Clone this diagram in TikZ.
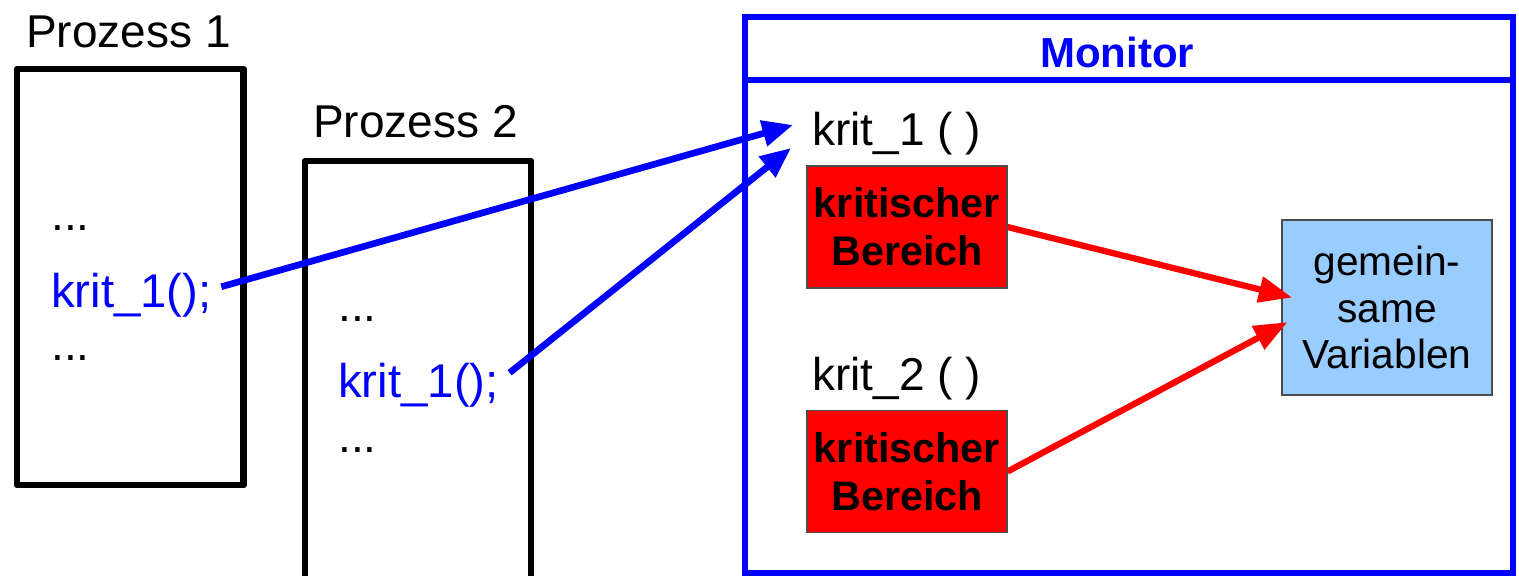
\documentclass[tikz,border=0pt]{standalone}
\usepackage{fontspec}
\setmainfont{Liberation Sans}
\usetikzlibrary{arrows.meta}
\definecolor{mblue}{RGB}{0,0,255}
\definecolor{mred}{RGB}{255,0,0}
\definecolor{lblue}{RGB}{153,204,255}
\begin{document}
\begin{tikzpicture}[x=0.75pt,y=-0.75pt,
  procbox/.style={draw=black,line width=5.2pt,line join=round},
  lbl/.style={inner sep=0pt,anchor=base west,font=\fontsize{34.5}{40}\selectfont},
  call/.style={lbl,text=mblue,font=\fontsize{35.5}{40}\selectfont},
  crit/.style={draw=black!70,line width=0.8pt,fill=mred,inner sep=0pt,
    minimum width=150pt,minimum height=91.5pt,align=center,
    font=\fontsize{31}{36}\selectfont\bfseries},
  shared/.style={draw=black!70,line width=0.8pt,fill=lblue,inner sep=0pt,
    minimum width=157.5pt,minimum height=131.25pt,align=center,
    font=\fontsize{30.5}{35}\selectfont},
  bluearrow/.style={draw=mblue,line width=5pt,-{Triangle[length=23pt,width=19pt]}},
  redarrow/.style={draw=mred,line width=4.7pt,-{Triangle[length=25pt,width=19pt]}}]
\useasboundingbox (0,0) rectangle (1519,575);
% Prozess 1
\node[lbl] (p1lbl) at (26,47) {Prozess 1};
\draw[procbox] (17,69) rectangle (243.5,485);
\node[lbl] (p1d1) at (51,230) {...};
\node[call] (p1call) at (51,307) {krit\_1();};
\node[lbl] (p1d2) at (51,360) {...};
% Prozess 2
\node[lbl] (p2lbl) at (313,137) {Prozess 2};
\draw[procbox] (305,161) -- (531,161) -- (531,620) -- (305,620) -- cycle;
\node[lbl] (p2d1) at (338,321) {...};
\node[call] (p2call) at (338,397) {krit\_1();};
\node[lbl] (p2d2) at (338,452) {...};
% Monitor
\draw[draw=mblue,line width=4.5pt] (745,17) rectangle (1513,573);
\draw[draw=mblue,line width=4.5pt] (745,80) -- (1513,80);
\node[inner sep=0pt,anchor=base,text=mblue,font=\fontsize{31.5}{36}\selectfont\bfseries] (mon) at (1117,67) {Monitor};
\node[lbl] (k1) at (812,145) {krit\_1 ( )};
\node[lbl] (k2) at (812,390) {krit\_2 ( )};
\node[crit] (r1) at (907,227) {kritischer\\Bereich};
\node[crit] (r2) at (907,471.5) {kritischer\\Bereich};
\node[shared] (gv) at (1387,307.5) {gemein-\\same\\Variablen};
\coordinate (t1) at (793,125);
\coordinate (t2) at (791,148);
% arrows
\draw[bluearrow] ([xshift=7pt,yshift=6pt]p1call.east) -- (t1);
\draw[bluearrow] ([xshift=8pt,yshift=9pt]p2call.east) -- (t2);
\draw[redarrow] (r1.east) -- ([xshift=8pt,yshift=7.5pt]gv.west);
\draw[redarrow] (r2.east) -- ([xshift=4.5pt,yshift=-11pt]gv.west);
\end{tikzpicture}
\end{document}
